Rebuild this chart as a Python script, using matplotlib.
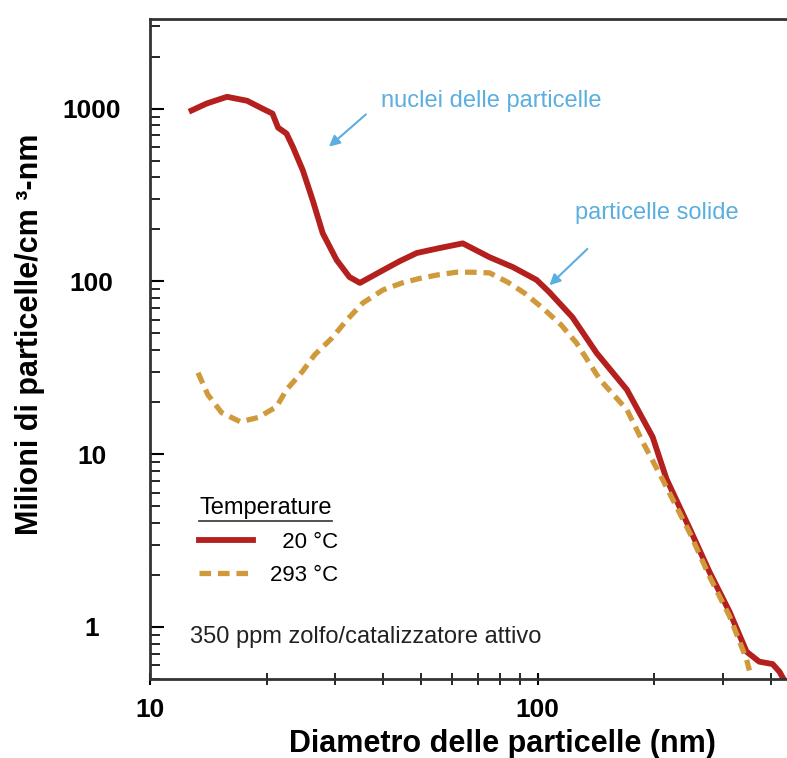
import numpy as np
import matplotlib
matplotlib.use('Agg')
import matplotlib.pyplot as plt
from matplotlib.lines import Line2D
from matplotlib.ticker import LogLocator, NullFormatter

plt.rcParams['font.family'] = ['Liberation Sans', 'DejaVu Sans']

# diametro (nm) / milioni di particelle per cm3-nm
x_20 = [12.8, 14.0, 15.8, 17.8, 19.5, 20.7, 21.4, 22.5, 23.4, 24.8, 26.3, 27.9, 30.3,
        32.7, 34.8, 39.9, 44.1, 48.8, 55.9, 64.1, 75.2, 86.3, 99.4, 107, 123, 142,
        170, 198, 215, 247, 278, 313, 346, 373, 404, 421, 431]
y_20 = [975, 1070, 1170, 1110, 1000, 936, 776, 717, 596, 438, 294, 190, 133,
        106, 98, 116, 131, 146, 156, 166, 138, 121, 102, 87, 62, 38.5,
        23.6, 12.6, 7.2, 3.7, 2.07, 1.22, 0.72, 0.63, 0.61, 0.55, 0.5]

x_293 = [13.3, 14.1, 15.3, 17.1, 19.0, 21.2, 22.5, 24.7, 26.6, 29.5, 32.2, 35.4, 39.9,
         44.6, 49.6, 55.2, 61.8, 68, 75.2, 83.7, 92.5, 103, 115, 126, 145, 170, 187,
         210, 247, 278, 313, 346, 352]
y_293 = [29.6, 22.1, 17.4, 15.4, 16.3, 18.8, 23.6, 30.0, 37.6, 47.1, 59.8, 75.0, 89.2,
         97.8, 104, 109, 113, 113, 112, 99, 85.6, 70.2, 56, 44, 26.9, 18.1, 11.7,
         7.15, 3.5, 1.95, 1.15, 0.65, 0.56]

labels = ['  20 °C', '293 °C']
yticks = [1, 10, 100, 1000]
yticklabels = ['1', '10', '100', '1000']
xticks = [10, 100]
xticklabels = ['10', '100']

RED = '#b3201d'
ORANGE = '#d09a3c'
BLUE = '#5aaee0'

fig = plt.figure(figsize=(7.87, 7.58), dpi=100)
ax = fig.add_axes([150 / 787, 79 / 758, 637 / 787, 660 / 758])

ax.plot(x_20, y_20, color=RED, lw=4.2, solid_joinstyle='round', label=labels[0])
ax.plot(x_293, y_293, color=ORANGE, lw=3.8, linestyle=(0, (2.2, 1.3)), label=labels[1])

ax.set_xscale('log')
ax.set_yscale('log')
ax.set_xlim(10, 440)
ax.set_ylim(0.5, 3300)

ax.set_yticks(yticks, yticklabels)
ax.set_xticks(xticks, xticklabels)
ax.yaxis.set_minor_locator(LogLocator(base=10, subs=np.arange(2, 10)))
ax.xaxis.set_minor_locator(LogLocator(base=10, subs=np.arange(2, 10)))
ax.yaxis.set_minor_formatter(NullFormatter())
ax.xaxis.set_minor_formatter(NullFormatter())

ax.tick_params(axis='y', which='major', direction='in', length=10, width=1.5, pad=42,
               labelsize=19)
ax.tick_params(axis='y', which='minor', direction='in', length=7, width=1.2)
ax.tick_params(axis='x', which='major', direction='inout', length=9, width=1.5, pad=9,
               labelsize=19)
ax.tick_params(axis='x', which='minor', direction='inout', length=9, width=1.2)
for lab in ax.get_yticklabels():
    lab.set_ha('center')
    lab.set_fontweight('bold')
for lab in ax.get_xticklabels():
    lab.set_fontweight('bold')

ax.spines['right'].set_visible(False)
for s in ['left', 'bottom', 'top']:
    ax.spines[s].set_linewidth(2)
    ax.spines[s].set_color('#333333')

ax.set_xlabel('Diametro delle particelle (nm)', fontsize=22, fontweight='bold', va='center')
ax.xaxis.set_label_coords((502 - 150) / 637, (679 - 744) / 660)
fig.text(30 / 787, 1 - 334 / 758, 'Milioni di particelle/cm ³-nm', rotation=90,
         ha='center', va='center', fontsize=22, fontweight='bold')

# annotazioni
ax.annotate('', xy=(28.6, 588), xytext=(36.5, 948),
            arrowprops=dict(arrowstyle='-|>', color=BLUE, lw=1.5, mutation_scale=16))
ax.text(39.4, 1110, 'nuclei delle particelle', color=BLUE, fontsize=17, va='center')
ax.annotate('', xy=(106, 92.6), xytext=(136, 158),
            arrowprops=dict(arrowstyle='-|>', color=BLUE, lw=1.5, mutation_scale=16))
ax.text(125, 248, 'particelle solide', color=BLUE, fontsize=17, va='center')

ax.text(0.063, 0.064, '350 ppm zolfo/catalizzatore attivo', transform=ax.transAxes,
        fontsize=17, va='center', color='#222222')

leg = ax.legend(loc='upper left', bbox_to_anchor=(0.06, 0.292), frameon=False,
                title='Temperature', alignment='left', fontsize=16, title_fontsize=17,
                handlelength=2.4, labelspacing=0.55, borderpad=0, handletextpad=0.8)

fig.canvas.draw()
bb = leg.get_title().get_window_extent().transformed(fig.transFigure.inverted())
fig.add_artist(Line2D([bb.x0, bb.x1], [bb.y0 - 0.002, bb.y0 - 0.002], color='#333333',
                      lw=1.2, transform=fig.transFigure))

fig.savefig('out.png', dpi=100)
